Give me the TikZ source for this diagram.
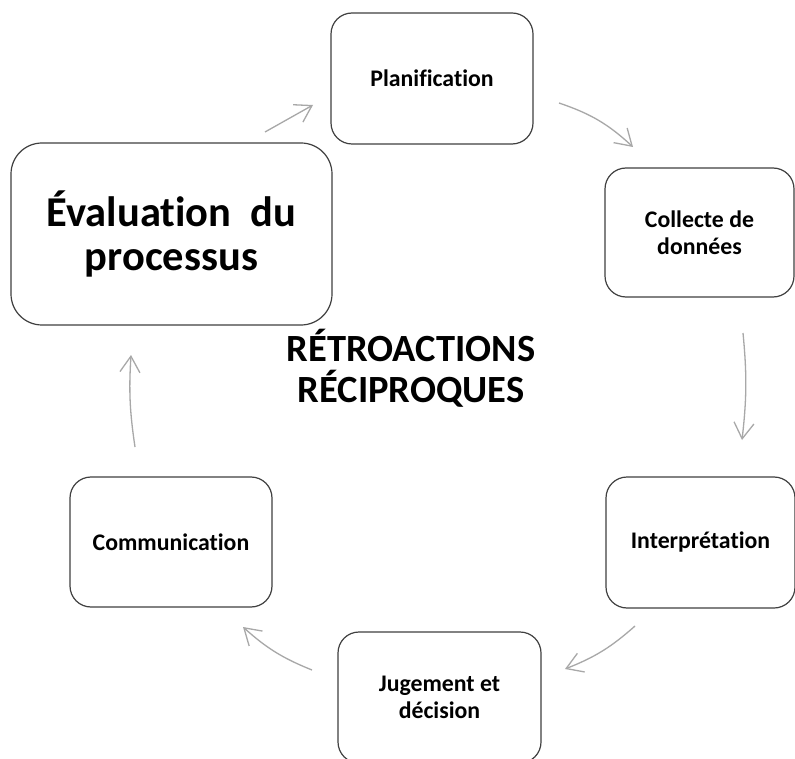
\documentclass[tikz,border=0pt]{standalone}
\usepackage{fontspec}
\setmainfont{Carlito}[Ligatures={NoCommon}]
\usetikzlibrary{arrows.meta}
\definecolor{boxline}{HTML}{404040}
\definecolor{arrowgray}{HTML}{A8A8A8}
\tikzset{
  stage/.style={draw=boxline, line width=1.2pt, rounded corners=21pt,
    align=center, font=\fontsize{23.8}{27.5}\selectfont\bfseries,
    minimum width=202pt, minimum height=131pt, inner sep=0pt},
  bigstage/.style={stage, rounded corners=31pt, font=\fontsize{42.5}{44}\selectfont\bfseries},
  flow/.style={draw=arrowgray, line width=1.3pt,
    -{Straight Barb[length=16pt, width=20pt, line width=1.3pt]}}
}
\begin{document}
\begin{tikzpicture}[x=1pt, y=-1pt]
  \useasboundingbox (0,0) rectangle (795,759);
  \clip (0,0) rectangle (795,759);
  \fill[white] (0,0) rectangle (795,759);

  % stages of the cycle
  \node[stage] (plan) at (432,78.5) {Planification};
  \node[bigstage, minimum width=321pt, minimum height=182pt] (eval) at (171.5,234) {Évaluation\ \ du\\processus};
  \node[stage, minimum width=189pt, minimum height=129pt] (coll) at (699.5,232.5) {Collecte de\\données};
  \node[stage, minimum width=189pt] (interp) at (700.5,542.5) {Interprétation};
  \node[stage, minimum width=203pt] (jug) at (439.5,697.5) {Jugement et\\décision};
  \node[stage, minimum height=130pt] (comm) at (171,542) {Communication};

  % central label
  \node[align=center, font=\fontsize{38.5}{41}\selectfont\bfseries] (fb) at (411,368) {RÉTROACTIONS\\RÉCIPROQUES};

  % arrow end points between the stages
  \coordinate (a1s) at (265,132);  \coordinate (a1e) at (313,105);
  \coordinate (a2s) at (559,103);  \coordinate (a2e) at (633,147);
  \coordinate (a3s) at (743,333);  \coordinate (a3e) at (742,440);
  \coordinate (a4s) at (635,626);  \coordinate (a4e) at (565,669);
  \coordinate (a5s) at (312,670);  \coordinate (a5e) at (243,627);
  \coordinate (a6s) at (135,447);  \coordinate (a6e) at (131,355);

  \draw[flow] (a1s) -- (a1e);
  \draw[flow] (a2s) to[bend left=12] (a2e);
  \draw[flow] (a3s) to[bend left=6] (a3e);
  \draw[flow] (a4s) to[bend left=10] (a4e);
  \draw[flow] (a5s) to[bend left=10] (a5e);
  \draw[flow] (a6s) to[bend left=6] (a6e);
\end{tikzpicture}
\end{document}
